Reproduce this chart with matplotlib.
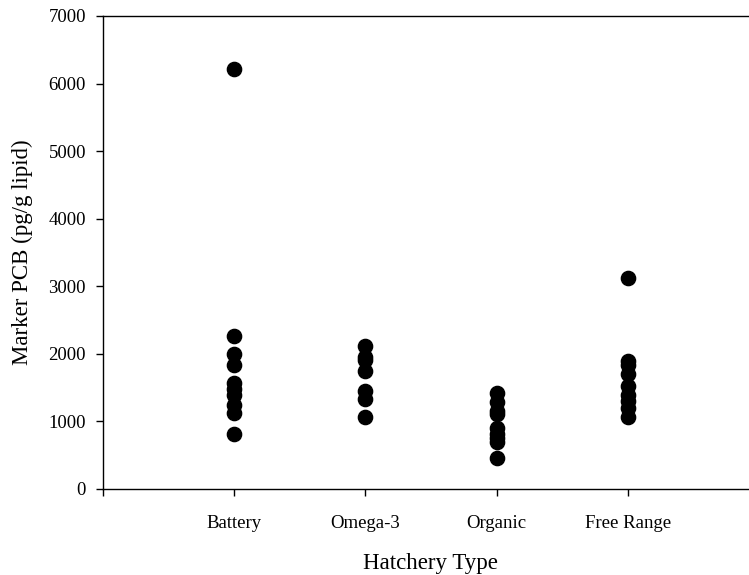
import matplotlib
matplotlib.use("Agg")
import matplotlib.pyplot as plt

# marker PCB per hatchery type (pg/g lipid)
categories = ["Battery", "Omega-3", "Organic", "Free Range"]
battery = [6220, 2260, 2000, 1840, 1570, 1480, 1390, 1240, 1130, 820]
omega3 = [2110, 1960, 1910, 1740, 1450, 1330, 1070]
organic = [1420, 1290, 1160, 1110, 900, 820, 750, 700, 460]
free_range = [3120, 1890, 1840, 1700, 1530, 1390, 1300, 1200, 1060]

groups = [battery, omega3, organic, free_range]

plt.rcParams['font.family'] = ['Liberation Serif', 'DejaVu Serif']

fig = plt.figure(figsize=(7.49, 5.75), dpi=100)
ax = fig.add_axes([0.1371, 0.1496, 0.8765, 0.8226])

for i, vals in enumerate(groups):
    ax.scatter([i + 1] * len(vals), vals, s=105, color='black', zorder=3)

ax.set_xlim(0, 5)
ax.set_ylim(0, 7000)
ax.set_xticks(range(0, 5))
ax.set_xticklabels([''] + categories)
ax.set_yticks(range(0, 7001, 1000))
ax.tick_params(direction='out', length=5, width=1, labelsize=13.5, pad=7)
ax.tick_params(axis='x', pad=14)
for s in ax.spines.values():
    s.set_linewidth(1)

ax.set_xlabel("Hatchery Type", fontsize=16.5, labelpad=15)
ax.set_ylabel("Marker PCB (pg/g lipid)", fontsize=16.5, labelpad=11)

fig.savefig("out.png", dpi=100)
